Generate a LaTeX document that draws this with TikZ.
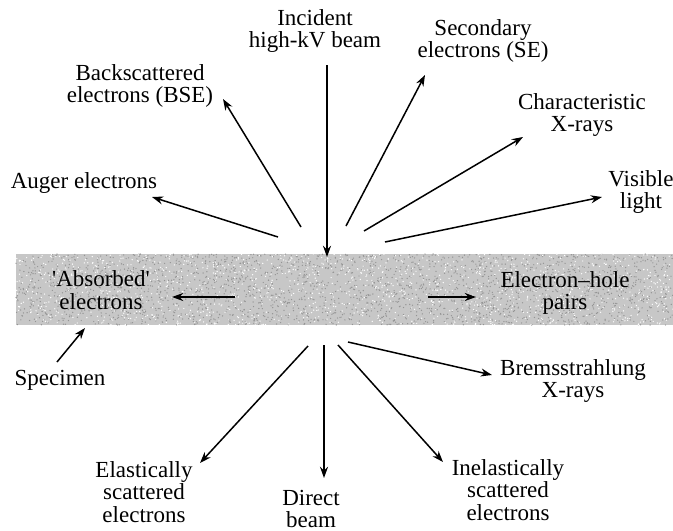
\documentclass[tikz,border=0pt]{standalone}
\usepackage{fontspec}
\setmainfont{Liberation Serif}
\usetikzlibrary{arrows.meta}
\begin{document}
\begin{tikzpicture}[x=0.5pt,y=-0.5pt,
  lbl/.style={font=\rmfamily\fontsize{11.5}{11.3}\selectfont, align=center, inner sep=0pt},
  ray/.style={line width=0.75pt, -{Stealth[length=5.6pt,width=4pt]}},
  band/.style={fill=black!22, draw=none}]
\useasboundingbox (0,0) rectangle (673,530);
% specimen
\path[band] (16,254) rectangle (673,325);
\pgfmathsetseed{7}
\foreach \i in {1,...,2400}{
  \fill[black!42] ({16+rnd*657},{254+rnd*71}) circle (0.7);
}
\foreach \i in {1,...,1400}{
  \fill[white] ({16+rnd*657},{254+rnd*71}) circle (0.7);
}
% labels
\node[lbl] (inc)  at (315,31)  {Incident\\high-kV beam};
\node[lbl] (bse)  at (140,86)  {Backscattered\\electrons (BSE)};
\node[lbl] (se)   at (483,41)  {Secondary\\electrons (SE)};
\node[lbl] (chx)  at (582,115) {Characteristic\\X-rays};
\node[lbl] (vis)  at (641,192) {Visible\\light};
\node[lbl] (aug)  at (84,183)  {Auger electrons};
\node[lbl] (abs)  at (101,290) {\textquotesingle Absorbed\textquotesingle\\electrons};
\node[lbl] (ehp)  at (565,293) {Electron--hole\\pairs};
\node[lbl] (spec) at (60,380)  {Specimen};
\node[lbl] (brem) at (573,381) {Bremsstrahlung\\X-rays};
\node[lbl] (inel) at (508,490) {Inelastically\\scattered\\electrons};
\node[lbl] (dir)  at (311,509) {Direct\\beam};
\node[lbl] (ela)  at (144,492) {Elastically\\scattered\\electrons};
% arrow end points
\coordinate (incS) at (327,65);   \coordinate (incE) at (327,257);
\coordinate (bseS) at (301,227);  \coordinate (bseE) at (223,99);
\coordinate (seS)  at (346,226);  \coordinate (seE)  at (425,75);
\coordinate (chxS) at (364,231);  \coordinate (chxE) at (523,137);
\coordinate (visS) at (385,242);  \coordinate (visE) at (602,197);
\coordinate (augS) at (278,237);  \coordinate (augE) at (152,197);
\coordinate (absS) at (235,297);  \coordinate (absE) at (172,297);
\coordinate (ehpS) at (428,297);  \coordinate (ehpE) at (476,297);
\coordinate (spcS) at (57,362);   \coordinate (spcE) at (85,328);
\coordinate (brmS) at (348,342);  \coordinate (brmE) at (492,375);
\coordinate (inlS) at (338,345);  \coordinate (inlE) at (443,462);
\coordinate (dirS) at (324,345);  \coordinate (dirE) at (324,478);
\coordinate (elaS) at (308,346);  \coordinate (elaE) at (200,463);
% arrows
\draw[ray] (incS) -- (incE);
\draw[ray] (bseS) -- (bseE);
\draw[ray] (seS)  -- (seE);
\draw[ray] (chxS) -- (chxE);
\draw[ray] (visS) -- (visE);
\draw[ray] (augS) -- (augE);
\draw[ray] (absS) -- (absE);
\draw[ray] (ehpS) -- (ehpE);
\draw[ray] (spcS) -- (spcE);
\draw[ray] (brmS) -- (brmE);
\draw[ray] (inlS) -- (inlE);
\draw[ray] (dirS) -- (dirE);
\draw[ray] (elaS) -- (elaE);
\end{tikzpicture}
\end{document}
